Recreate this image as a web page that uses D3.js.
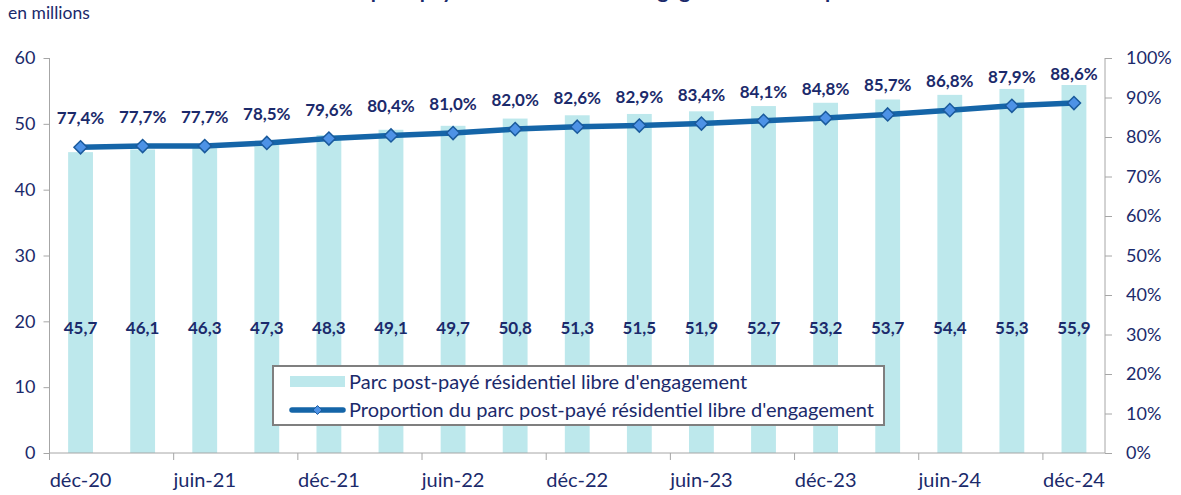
<!DOCTYPE html>
<html>
<head>
  <meta charset="utf-8">
  <title>Parc post-payé résidentiel libre d'engagement</title>
  <script src="https://cdn.jsdelivr.net/npm/d3@7"></script>
  <style>
    body { margin: 0; background: #fff; }
    text { font-family: Lato, "Open Sans", sans-serif; fill: #1b2a6b; }
    .axis path, .axis line { stroke: #a6a6a6; }
  </style>
</head>
<body>
<script>
  // data (quarterly, dec 2020 to dec 2024)
  var categories = ["déc-20", "mars-21", "juin-21", "sept-21", "déc-21", "mars-22", "juin-22", "sept-22",
                    "déc-22", "mars-23", "juin-23", "sept-23", "déc-23", "mars-24", "juin-24", "sept-24", "déc-24"];
  var parc = [45.7, 46.1, 46.3, 47.3, 48.3, 49.1, 49.7, 50.8, 51.3, 51.5, 51.9, 52.7, 53.2, 53.7, 54.4, 55.3, 55.9];
  var proportion = [77.4, 77.7, 77.7, 78.5, 79.6, 80.4, 81.0, 82.0, 82.6, 82.9, 83.4, 84.1, 84.8, 85.7, 86.8, 87.9, 88.6];
  var leftTicks = [0, 10, 20, 30, 40, 50, 60];
  var rightTicks = [0, 10, 20, 30, 40, 50, 60, 70, 80, 90, 100];

  var W = 1181, H = 495;
  var margin = {top: 58, right: 76, bottom: 42, left: 49.5},
      width = W - margin.left - margin.right,
      height = H - margin.top - margin.bottom;

  var fr = function(v, d) { return v.toFixed(d).replace(".", ","); };

  var svg = d3.select("body").append("svg")
      .attr("width", W)
      .attr("height", H);

  // title, cut off at the top of the picture
  svg.append("text")
      .attr("x", 595).attr("y", -2)
      .attr("text-anchor", "middle")
      .style("font-size", "21px").style("font-weight", "bold")
      .text("Parc post-payé résidentiel libre d'engagement dans le parc");

  svg.append("text")
      .attr("x", 8).attr("y", 19)
      .style("font-size", "17.5px")
      .text("en millions");

  var g = svg.append("g")
      .attr("transform", "translate(" + margin.left + "," + margin.top + ")");

  var x = d3.scaleBand().domain(categories).range([0, width]).paddingInner(0.6).paddingOuter(0.3);
  var y = d3.scaleLinear().domain([0, 60]).range([height, 0]);
  var y2 = d3.scaleLinear().domain([0, 100]).range([height, 0]);
  var step = x.step();
  var cx = function(d) { return x(d) + x.bandwidth() / 2; };

  // bars
  g.selectAll(".bar")
      .data(categories)
    .enter().append("rect")
      .attr("class", "bar")
      .attr("x", function(d) { return x(d); })
      .attr("width", x.bandwidth())
      .attr("y", function(d, i) { return y(parc[i]); })
      .attr("height", function(d, i) { return height - y(parc[i]); })
      .attr("fill", "#bde8ec");

  // bar values
  g.selectAll(".barlab")
      .data(categories)
    .enter().append("text")
      .attr("x", cx)
      .attr("y", y(19) + 6)
      .attr("text-anchor", "middle")
      .style("font-size", "17px").style("font-weight", "bold")
      .text(function(d, i) { return fr(parc[i], 1); });

  // left axis
  g.append("g")
      .attr("class", "axis")
      .call(d3.axisLeft(y).tickValues(leftTicks).tickSize(6).tickPadding(8))
      .call(function(a) {
        a.select(".domain").attr("d", "M0," + height + "V0");
        a.selectAll("text").style("font-size", "18px").attr("fill", "#1b2a6b");
      });

  // right axis
  g.append("g")
      .attr("class", "axis")
      .attr("transform", "translate(" + width + ",0)")
      .call(d3.axisRight(y2).tickValues(rightTicks).tickSize(7).tickPadding(14)
        .tickFormat(function(d) { return d + "%"; }))
      .call(function(a) {
        a.select(".domain").attr("d", "M0," + height + "V0");
        a.selectAll("text").style("font-size", "18px").attr("fill", "#1b2a6b");
      });

  // x axis: ticks between every second category, labels on even ones
  var xa = g.append("g").attr("class", "axis").attr("transform", "translate(0," + height + ")");
  xa.append("line").attr("x1", 0).attr("x2", width).attr("stroke", "#a6a6a6");
  xa.selectAll(".xt")
      .data(d3.range(0, categories.length + 1, 2))
    .enter().append("line")
      .attr("x1", function(i) { return i * step; })
      .attr("x2", function(i) { return i * step; })
      .attr("y2", 7)
      .attr("stroke", "#a6a6a6");
  xa.selectAll(".xl")
      .data(categories.filter(function(d, i) { return i % 2 === 0; }))
    .enter().append("text")
      .attr("x", cx)
      .attr("y", 34)
      .attr("text-anchor", "middle")
      .style("font-size", "20px")
      .text(function(d) { return d; });

  // proportion line
  var line = d3.line()
      .x(function(d, i) { return cx(categories[i]); })
      .y(function(d) { return y2(d); });

  g.append("path")
      .datum(proportion)
      .attr("d", line)
      .attr("fill", "none")
      .attr("stroke", "#1565a8")
      .attr("stroke-width", 5.5);

  g.selectAll(".pt")
      .data(proportion)
    .enter().append("path")
      .attr("d", d3.symbol().type(d3.symbolDiamond2).size(110))
      .attr("transform", function(d, i) { return "translate(" + cx(categories[i]) + "," + y2(d) + ")"; })
      .attr("fill", "#4d92e6")
      .attr("stroke", "#1a5a9c")
      .attr("stroke-width", 1.5);

  g.selectAll(".ptlab")
      .data(proportion)
    .enter().append("text")
      .attr("x", function(d, i) { return cx(categories[i]); })
      .attr("y", function(d) { return y2(d) - 23; })
      .attr("text-anchor", "middle")
      .style("font-size", "17px").style("font-weight", "bold")
      .text(function(d) { return fr(d, 1) + "%"; });

  // legend
  var lg = svg.append("g").attr("transform", "translate(273,366)");
  lg.append("rect")
      .attr("width", 611).attr("height", 59)
      .attr("fill", "#fff").attr("stroke", "#7f7f7f").attr("stroke-width", 2);
  lg.append("rect")
      .attr("x", 17).attr("y", 10).attr("width", 55).attr("height", 11)
      .attr("fill", "#bde8ec");
  lg.append("text")
      .attr("x", 76).attr("y", 23)
      .style("font-size", "20px")
      .text("Parc post-payé résidentiel libre d'engagement");
  lg.append("line")
      .attr("x1", 19).attr("x2", 70).attr("y1", 44).attr("y2", 44)
      .attr("stroke", "#1565a8").attr("stroke-width", 5.5).attr("stroke-linecap", "round");
  lg.append("path")
      .attr("d", d3.symbol().type(d3.symbolDiamond2).size(50))
      .attr("transform", "translate(44.5,44)")
      .attr("fill", "#4d92e6").attr("stroke", "#1a5a9c");
  lg.append("text")
      .attr("x", 76).attr("y", 51)
      .style("font-size", "20px")
      .text("Proportion du parc post-payé résidentiel libre d'engagement");
</script>
</body>
</html>
